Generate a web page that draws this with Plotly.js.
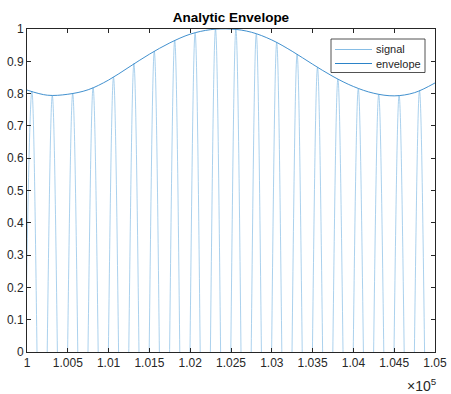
<!DOCTYPE html>
<html>
<head>
<meta charset="utf-8">
<script src="https://cdn.plot.ly/plotly-3.0.1.min.js"></script>
<style>
  html, body { margin: 0; padding: 0; background: #fff; }
  #chart { width: 451px; height: 394px; }
</style>
</head>
<body>
<div id="chart"></div>
<script>
// Signal crests (upper extremes) and troughs (lower extremes, below the visible range)
const peakX = [100060, 100310, 100560, 100810, 101060, 101310, 101560, 101810, 102060, 102310,
               102560, 102810, 103060, 103310, 103560, 103810, 104060, 104310, 104560, 104810, 105060];
const peakY = [0.807, 0.794, 0.800, 0.819, 0.851, 0.893, 0.931, 0.965, 0.988, 1.000,
               0.999, 0.985, 0.958, 0.922, 0.881, 0.845, 0.815, 0.797, 0.794, 0.809, 0.840];
const troughX = [99935, 100185, 100435, 100685, 100935, 101185, 101435, 101685, 101935, 102185,
                 102435, 102685, 102935, 103185, 103435, 103685, 103935, 104185, 104435, 104685, 104935];
const troughY = [-0.810, -0.800, -0.796, -0.808, -0.834, -0.871, -0.912, -0.949, -0.978, -0.995,
                 -1.000, -0.993, -0.973, -0.941, -0.902, -0.862, -0.829, -0.805, -0.793, -0.800, -0.823];

// Upper analytic envelope
const envX = [100000, 100250, 100500, 100750, 101000, 101250, 101500, 101750, 102000, 102250, 102500,
              102750, 103000, 103250, 103500, 103750, 104000, 104250, 104500, 104750, 105000];
const envY = [0.811, 0.795, 0.798, 0.812, 0.842, 0.882, 0.922, 0.957, 0.984, 0.998, 1.000,
              0.990, 0.966, 0.931, 0.891, 0.853, 0.822, 0.801, 0.793, 0.803, 0.833];

// Axis ticks
const xTickVals = [100000, 100500, 101000, 101500, 102000, 102500, 103000, 103500, 104000, 104500, 105000];
const xTickText = ['1', '1.005', '1.01', '1.015', '1.02', '1.025', '1.03', '1.035', '1.04', '1.045', '1.05'];
const yTickVals = [0, 0.1, 0.2, 0.3, 0.4, 0.5, 0.6, 0.7, 0.8, 0.9, 1];
const yTickText = ['0', '0.1', '0.2', '0.3', '0.4', '0.5', '0.6', '0.7', '0.8', '0.9', '1'];

const seriesNames = ['signal', 'envelope'];
const seriesColors = ['#86bde5', '#2b83c8'];

// Interleave troughs and crests into one oscillating trace
const sigX = [], sigY = [];
for (let i = 0; i < peakX.length; i++) {
  sigX.push(troughX[i], peakX[i]);
  sigY.push(troughY[i], peakY[i]);
}

const FONT = 'Liberation Sans, Arial, Helvetica, sans-serif';
const INK = '#262626';

// Plot-area geometry (pixels) used to place the hand-built legend box
const W = 451, H = 394;
const M = {l: 27, r: 16, t: 29, b: 42};
const pL = M.l, pR = W - M.r, pT = M.t, pB = H - M.b;
const px = v => (v - pL) / (pR - pL);
const py = v => (pB - v) / (pB - pT);

const traces = [
  {
    x: sigX, y: sigY, type: 'scatter', mode: 'lines', name: seriesNames[0],
    line: {color: seriesColors[0], width: 0.7, shape: 'spline', smoothing: 1},
    showlegend: false, hoverinfo: 'skip'
  },
  {
    x: envX, y: envY, type: 'scatter', mode: 'lines', name: seriesNames[1],
    line: {color: seriesColors[1], width: 0.9, shape: 'spline', smoothing: 1},
    showlegend: false, hoverinfo: 'skip'
  }
];

const legRow = [49.5, 63.5];
const shapes = [
  {type: 'rect', xref: 'paper', yref: 'paper',
   x0: px(331), x1: px(425), y0: py(72.5), y1: py(39),
   line: {color: INK, width: 0.8}, fillcolor: '#ffffff', layer: 'above'}
];
const annotations = [];
for (let i = 0; i < 2; i++) {
  shapes.push({type: 'line', xref: 'paper', yref: 'paper',
    x0: px(335), x1: px(372), y0: py(legRow[i]), y1: py(legRow[i]),
    line: {color: seriesColors[i], width: 1}, layer: 'above'});
  annotations.push({xref: 'paper', yref: 'paper', x: px(374), y: py(legRow[i]),
    xanchor: 'left', yanchor: 'middle', showarrow: false, text: seriesNames[i],
    font: {family: FONT, size: 11, color: INK}});
}
// Shared x-axis multiplier
annotations.push({xref: 'paper', yref: 'paper', x: px(439), y: py(385),
  xanchor: 'right', yanchor: 'middle', showarrow: false, text: '×10<sup>5</sup>',
  font: {family: FONT, size: 14, color: INK}});

const axisCommon = {
  showgrid: false, zeroline: false, showline: true, mirror: 'ticks',
  linecolor: INK, linewidth: 1, ticks: 'inside', ticklen: 4, tickwidth: 1, tickcolor: INK,
  tickfont: {family: FONT, size: 12, color: INK}, tickmode: 'array', fixedrange: true
};

const layout = {
  width: W, height: H, autosize: false,
  margin: {l: M.l, r: M.r, t: M.t, b: M.b, pad: 0},
  paper_bgcolor: '#ffffff', plot_bgcolor: '#ffffff',
  title: {text: '<b>Analytic Envelope</b>', font: {family: FONT, size: 13.5, color: '#000000'},
          x: 231 / W, xref: 'container', xanchor: 'center',
          y: 1 - 17.5 / H, yref: 'container', yanchor: 'middle'},
  xaxis: Object.assign({}, axisCommon, {range: [100000, 105000], tickvals: xTickVals, ticktext: xTickText}),
  yaxis: Object.assign({}, axisCommon, {range: [0, 1], tickvals: yTickVals, ticktext: yTickText}),
  shapes: shapes,
  annotations: annotations,
  showlegend: false
};

Plotly.newPlot('chart', traces, layout, {staticPlot: true, displayModeBar: false});
</script>
</body>
</html>
